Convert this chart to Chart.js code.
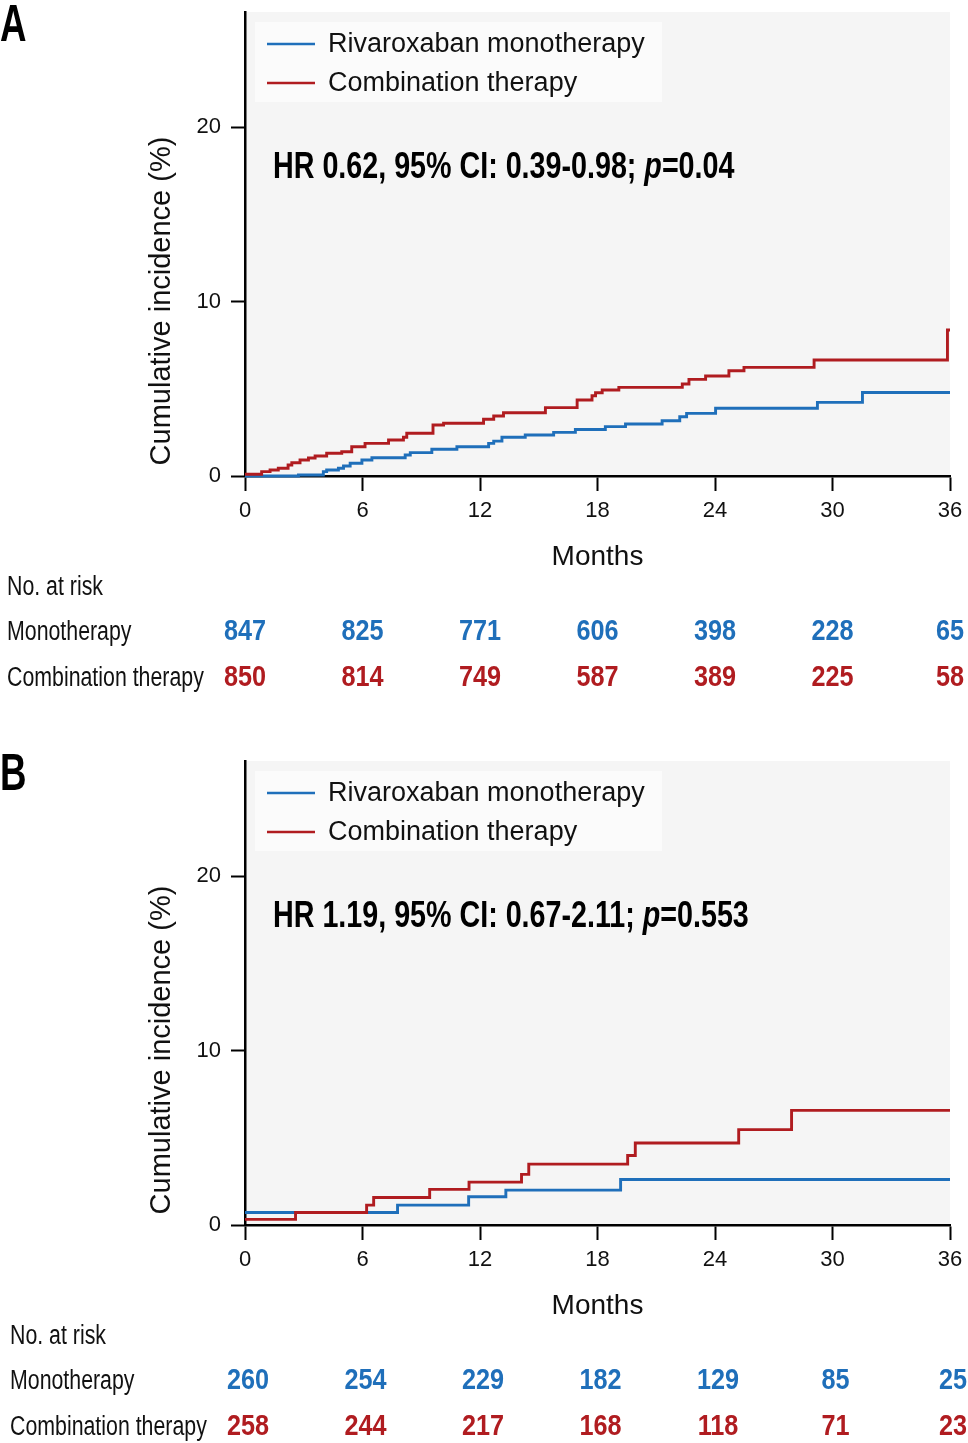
<!DOCTYPE html>
<html><head><meta charset="utf-8">
<script src="https://cdn.jsdelivr.net/npm/chart.js@4.4.1/dist/chart.umd.min.js"></script>
<style>
html,body{margin:0;padding:0;background:#fff;width:968px;height:1443px;overflow:hidden;}
.panel{position:absolute;left:0;width:968px;height:694px;}
canvas{display:block;}
</style></head><body>
<div class="panel" style="top:0"><canvas id="cA" width="968" height="694"></canvas></div>
<div class="panel" style="top:749px"><canvas id="cB" width="968" height="694"></canvas></div>
<script>
// ---------- data ----------
const monthTicks = [0, 6, 12, 18, 24, 30, 36];
const seriesNames = ['Rivaroxaban monotherapy', 'Combination therapy'];
const rowNames = ['Monotherapy', 'Combination therapy'];
const riskTitle = 'No. at risk';
const xTitle = 'Months';
const yTitle = 'Cumulative incidence (%)';
const yTickValues = [0, 10, 20];

// Panel A
const aMonoT = [0, 2.73, 4.0, 4.17, 4.77, 5.03, 5.37, 5.97, 6.48, 8.18, 8.44, 9.54, 10.82, 12.44, 12.7, 13.12, 14.31, 15.76, 16.87, 18.4, 19.43, 21.3, 22.2, 22.55, 24.03, 29.23, 31.53, 36];
const aMonoY = [0, 0.06, 0.25, 0.34, 0.44, 0.57, 0.73, 0.92, 1.05, 1.2, 1.34, 1.53, 1.68, 1.87, 2.0, 2.22, 2.35, 2.5, 2.67, 2.83, 2.98, 3.17, 3.4, 3.59, 3.88, 4.22, 4.79, 4.79];
const aCombT = [0, 0.85, 1.28, 1.7, 2.2, 2.39, 2.81, 3.24, 3.58, 4.17, 4.94, 5.45, 6.13, 7.33, 8.09, 8.26, 9.6, 10.14, 12.18, 12.7, 13.2, 15.34, 16.96, 17.72, 17.9, 18.24, 19.09, 22.33, 22.67, 23.52, 24.71, 25.48, 29.06, 35.87, 36];
const aCombY = [0.1, 0.25, 0.34, 0.44, 0.63, 0.76, 0.92, 1.03, 1.15, 1.3, 1.39, 1.68, 1.87, 2.06, 2.22, 2.45, 2.92, 3.02, 3.25, 3.44, 3.63, 3.92, 4.36, 4.6, 4.77, 4.93, 5.08, 5.27, 5.54, 5.73, 6.03, 6.23, 6.65, 8.37, 8.37];
const aRiskMono = [847, 825, 771, 606, 398, 228, 65];
const aRiskComb = [850, 814, 749, 587, 389, 225, 58];
const aHR = ['HR 0.62, 95% CI: 0.39-0.98; ', 'p', '=0.04'];

// Panel B
const bMonoT = [0, 7.79, 11.42, 13.32, 19.18, 36];
const bMonoY = [0.72, 1.14, 1.62, 2.0, 2.61, 2.61];
const bCombT = [0, 2.58, 6.21, 6.57, 9.43, 11.44, 14.12, 14.49, 19.54, 19.93, 25.21, 27.91, 36];
const bCombY = [0.32, 0.72, 1.14, 1.58, 2.04, 2.46, 2.9, 3.49, 3.98, 4.7, 5.47, 6.57, 6.57];
const bRiskMono = [260, 254, 229, 182, 129, 85, 25];
const bRiskComb = [258, 244, 217, 168, 118, 71, 23];
const bHR = ['HR 1.19, 95% CI: 0.67-2.11; ', 'p', '=0.553'];

// ---------- style ----------
const BLUE = '#1f6fba';
const RED = '#b01c20';
const INK = '#111111';
const SANS = '"Liberation Sans",Arial,Helvetica,sans-serif';

function toXY(t, y) { return t.map((v, i) => ({x: v, y: y[i]})); }

// draws text horizontally condensed by factor sx (text stays real text)
function narrowText(ctx, text, x, y, font, sx, align, color) {
  ctx.save();
  ctx.translate(x, y);
  ctx.scale(sx, 1);
  ctx.font = font;
  ctx.textAlign = align;
  ctx.textBaseline = 'alphabetic';
  ctx.fillStyle = color;
  ctx.fillText(text, 0, 0);
  const w = ctx.measureText(text).width * sx;
  ctx.restore();
  return w;
}

function makePanel(id, letter, monoT, monoY, combT, combY, riskMono, riskComb, hr, tableDx) {
  const overlay = {
    id: 'overlay' + letter,
    beforeDraw(chart) {
      const {ctx, chartArea: a} = chart;
      ctx.save();
      ctx.fillStyle = '#f5f5f5';
      ctx.fillRect(a.left, a.top, a.right - a.left, a.bottom - a.top);
      ctx.restore();
    },
    afterDraw(chart) {
      const {ctx, chartArea: a} = chart;
      const xs = chart.scales.x;
      // panel letter
      narrowText(ctx, letter, 0, 41, 'bold 51px ' + SANS, 0.72, 'left', '#000');
      // legend
      ctx.save();
      const lx = a.left + 10, ly = a.top + 10;
      ctx.fillStyle = '#fbfbfb';
      ctx.fillRect(lx, ly, 407, 80);
      const cols = [BLUE, RED];
      ctx.font = '27px ' + SANS;
      ctx.textBaseline = 'middle';
      for (let i = 0; i < 2; i++) {
        const yy = ly + 22 + i * 39;
        ctx.strokeStyle = cols[i];
        ctx.lineWidth = 2.6;
        ctx.beginPath(); ctx.moveTo(lx + 12, yy); ctx.lineTo(lx + 60, yy); ctx.stroke();
        ctx.fillStyle = INK;
        ctx.fillText(seriesNames[i], lx + 73, yy + 1);
      }
      ctx.restore();
      // HR text
      let hx = a.left + 28;
      const hy = a.top + 166;
      hx += narrowText(ctx, hr[0], hx, hy, 'bold 37px ' + SANS, 0.775, 'left', '#000');
      hx += narrowText(ctx, hr[1], hx, hy, 'italic bold 37px ' + SANS, 0.775, 'left', '#000');
      narrowText(ctx, hr[2], hx, hy, 'bold 37px ' + SANS, 0.775, 'left', '#000');
      // y title
      ctx.save();
      ctx.translate(162, 301);
      ctx.rotate(-Math.PI / 2);
      ctx.textAlign = 'center';
      ctx.textBaseline = 'middle';
      ctx.font = '29px ' + SANS;
      ctx.fillStyle = INK;
      ctx.fillText(yTitle, 0, 0);
      ctx.restore();
      // risk table
      const b = a.bottom;
      const lf = '27px ' + SANS;
      narrowText(ctx, riskTitle, 7 + tableDx, b + 119, lf, 0.79, 'left', INK);
      narrowText(ctx, rowNames[0], 7 + tableDx, b + 164, lf, 0.79, 'left', INK);
      narrowText(ctx, rowNames[1], 7 + tableDx, b + 210, lf, 0.79, 'left', INK);
      const nf = 'bold 29px ' + SANS;
      monthTicks.forEach((m, i) => {
        const px = xs.getPixelForValue(m) + tableDx;
        narrowText(ctx, String(riskMono[i]), px, b + 164, nf, 0.87, 'center', BLUE);
        narrowText(ctx, String(riskComb[i]), px, b + 210, nf, 0.87, 'center', RED);
      });
    }
  };

  return new Chart(document.getElementById(id), {
    type: 'line',
    data: {
      datasets: [
        {label: seriesNames[1], data: toXY(combT, combY), borderColor: RED, backgroundColor: RED,
         stepped: 'before', borderWidth: 2.9, pointRadius: 0, fill: false, order: 0, clip: 6},
        {label: seriesNames[0], data: toXY(monoT, monoY), borderColor: BLUE, backgroundColor: BLUE,
         stepped: 'before', borderWidth: 2.9, pointRadius: 0, fill: false, order: 1, clip: 6}
      ]
    },
    options: {
      responsive: false,
      animation: false,
      events: [],
      layout: {padding: {left: 0, right: 18, top: 12, bottom: 118}},
      plugins: {legend: {display: false}, tooltip: {enabled: false}},
      scales: {
        x: {
          type: 'linear', min: 0, max: 36,
          afterBuildTicks(s) { s.ticks = monthTicks.map(v => ({value: v})); },
          ticks: {font: {family: SANS, size: 22}, color: INK, padding: 7, maxRotation: 0, autoSkip: false},
          grid: {drawOnChartArea: false, drawTicks: true, tickLength: 15, tickColor: '#000', tickWidth: 2},
          border: {display: true, color: '#000', width: 2.5},
          title: {display: true, text: xTitle, font: {family: SANS, size: 28}, color: INK, padding: {top: 0, bottom: 2}},
          afterFit(s) { s.height = 100; s.paddingLeft = 0; s.paddingRight = 0; }
        },
        y: {
          type: 'linear', min: 0, max: 26.6,
          afterBuildTicks(s) { s.ticks = yTickValues.map(v => ({value: v})); },
          ticks: {font: {family: SANS, size: 22}, color: INK, padding: 10},
          grid: {drawOnChartArea: false, drawTicks: true, tickLength: 14, tickColor: '#000', tickWidth: 2},
          border: {display: true, color: '#000', width: 2.5},
          afterFit(s) { s.width = 245; s.paddingTop = 0; s.paddingBottom = 0; }
        }
      }
    },
    plugins: [overlay]
  });
}

makePanel('cA', 'A', aMonoT, aMonoY, aCombT, aCombY, aRiskMono, aRiskComb, aHR, 0);
makePanel('cB', 'B', bMonoT, bMonoY, bCombT, bCombY, bRiskMono, bRiskComb, bHR, 3);
</script>
</body></html>
